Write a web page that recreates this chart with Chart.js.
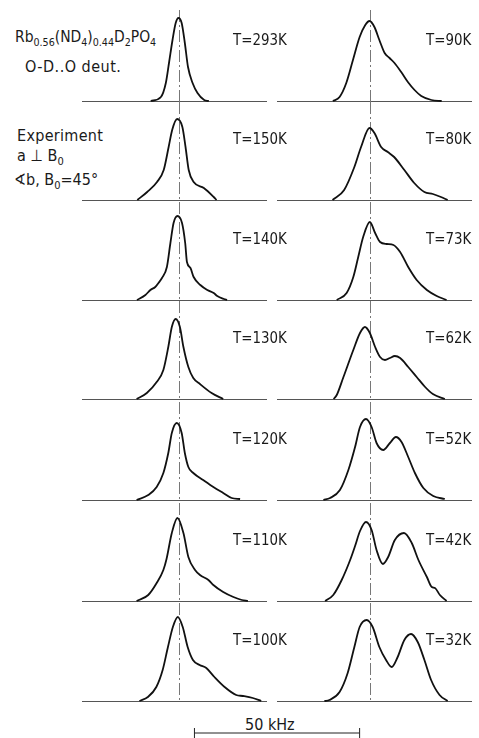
<!DOCTYPE html>
<html>
<head>
<meta charset="utf-8">
<script src="https://cdn.jsdelivr.net/npm/chart.js@4.4.1/dist/chart.umd.min.js"></script>
<style>
  body { margin: 0; background: #fff; }
  #page {
    position: relative; width: 479px; height: 738px; overflow: hidden;
    font-family: "DejaVu Sans Condensed", "Liberation Sans Narrow", sans-serif;
    color: #1a1a1a;
  }
  #page canvas { position: absolute; }
  .lbl { position: absolute; font-size: 16px; line-height: 16px; white-space: nowrap; transform-origin: left top; }
  .tl { transform: scaleX(0.93); }
  .hd { transform: scaleX(0.965); }
  .sb { font-size: 11px; vertical-align: -4px; }
</style>
</head>
<body>
<div id="page">
  <div class="lbl hd" style="left:15px;top:29px">Rb<span class="sb">0.56</span>(ND<span class="sb">4</span>)<span class="sb">0.44</span>D<span class="sb">2</span>PO<span class="sb">4</span></div>
  <div class="lbl" style="left:25px;top:59px;letter-spacing:0.5px">O-D..O deut.</div>
  <div class="lbl" style="left:17px;top:128px;letter-spacing:0.3px">Experiment</div>
  <div class="lbl" style="left:17px;top:148px">a ⊥ B<span class="sb">0</span></div>
  <div class="lbl" style="left:14px;top:172px">∢b, B<span class="sb">0</span>=45°</div>
  <div class="lbl" style="left:245px;top:717px">50 kHz</div>
</div>
<script>
// temperatures, left column top->bottom, right column top->bottom
const tempsLeft = [293, 150, 140, 130, 120, 110, 100];
const tempsRight = [90, 80, 73, 62, 52, 42, 32];

// spectra: [offset from centre in kHz, intensity (arb.)]
const s293 = [[-7.9,0],[-5.0,4],[-3.6,18],[-2.7,38],[-1.7,61],[-0.8,78],[0,83],[0.9,78],[1.8,58],[2.7,34],[4.0,18],[5.4,8],[7.3,1],[8.6,0]];
const s150 = [[-11.7,0],[-8.9,8],[-6.1,18],[-4.2,30],[-2.8,53],[-1.8,70],[-0.4,81],[1.1,73],[2.0,53],[2.9,30],[4.3,18],[7.2,12],[10.0,3],[10.8,0]];
const s140 = [[-11.8,0],[-9.4,5],[-8.0,10],[-6.6,13],[-5.7,17],[-4.7,22],[-3.3,33],[-2.3,57],[-1.4,77],[-0.3,84],[1.0,77],[1.9,57],[2.4,38],[3.4,32],[4.3,23],[6.2,15],[8.2,10],[10.0,7],[11.0,4],[12.9,1],[13.8,0]];
const s130 = [[-11.9,0],[-9.0,6],[-6.2,17],[-4.3,29],[-2.9,52],[-1.9,72],[-0.8,80],[0.4,72],[1.4,52],[2.8,32],[4.2,21],[6.1,15],[9.4,6],[12.7,0]];
const s120 = [[-11.9,0],[-8.6,5],[-6.2,13],[-4.3,27],[-2.9,47],[-1.9,67],[-0.5,77],[0.9,67],[1.8,47],[2.8,33],[4.2,27],[7.0,20],[9.9,13],[12.7,7],[15.1,2],[17.5,1]];
const s110 = [[-11.9,0],[-8.6,6],[-6.2,18],[-4.3,31],[-3.4,42],[-1.9,68],[-0.3,83],[1.4,68],[2.8,44],[4.7,31],[6.1,26],[8.5,21],[9.9,16],[12.7,9],[15.6,4],[18.0,1],[19.7,0]];
const s100 = [[-11.1,0],[-8.7,4],[-6.3,14],[-4.5,31],[-3.0,54],[-1.6,74],[-0.2,84],[1.2,74],[2.6,54],[4.1,41],[6.0,36],[7.9,33],[10.2,24],[13.1,14],[16.4,6],[18.3,5],[21.1,3],[23.5,0]];

const s90 = [[-10.4,0],[-8.5,4],[-6.6,18],[-4.7,41],[-2.8,64],[-1.2,76],[0,80],[1.4,74],[2.8,61],[4.3,48],[5.7,43],[7.1,38],[9.0,29],[10.9,19],[12.8,11],[14.7,5],[17.6,1],[20.5,0]];
const s80 = [[-10.5,0],[-7.2,10],[-4.3,33],[-2.4,53],[0,72],[1.4,67],[3.3,53],[5.2,48],[7.0,43],[9.9,30],[12.7,17],[15.6,8],[18.0,6],[20.3,3],[22.2,0]];
const s73 = [[-9.3,0],[-6.5,7],[-4.6,23],[-3.2,43],[-1.8,63],[0.1,78],[1.6,67],[3.0,58],[4.9,56],[6.8,55],[8.7,48],[11.0,33],[13.4,20],[16.3,10],[19.1,4],[21.9,0]];
const s62 = [[-10.2,0],[-9.3,4],[-7.4,22],[-4.6,49],[-2.7,66],[-1.3,72],[0.1,66],[1.6,52],[3.0,42],[4.4,39],[5.8,41],[7.2,43],[8.7,41],[11.0,32],[13.4,22],[15.8,12],[18.0,5],[21.4,0]];
const s52 = [[-13.1,0],[-11.2,2],[-8.4,10],[-6.0,30],[-4.1,53],[-2.7,73],[-1.0,81],[0.6,73],[2.0,57],[3.9,50],[5.8,57],[7.5,63],[9.1,58],[11.0,43],[12.9,27],[15.3,12],[18.1,4],[21.4,1]];
const s42 = [[-12.6,0],[-10.3,6],[-7.9,21],[-5.5,41],[-4.1,55],[-2.7,70],[-1.0,79],[0.6,71],[2.0,51],[3.8,37],[5.3,44],[7.2,61],[9.8,68],[12.0,58],[13.9,41],[16.3,24],[17.7,14],[18.6,13],[20.0,6],[21.9,0]];
const s32 = [[-12.8,0],[-11.4,1],[-8.5,9],[-6.2,28],[-4.3,54],[-2.8,74],[-0.8,81],[0.9,74],[2.8,54],[4.7,41],[6.3,34],[8.0,44],[9.9,61],[11.8,67],[13.7,59],[15.6,41],[17.5,21],[19.9,6],[22.2,0]];

const spectraLeft = [s293, s150, s140, s130, s120, s110, s100];
const spectraRight = [s90, s80, s73, s62, s52, s42, s32];

const scaleBarKHz = 50;

// layout
const PX_PER_KHZ = 3.52;
const ROW_BASE = [101, 200, 300, 399, 500, 601, 701];
const PANEL_H = 100;
const BASE_IN_PANEL = 98;
const COLS = [
  { left: 82, width: 185, center: 178.5, label: 233 },
  { left: 277, width: 195, center: 369.5, label: 426 }
];

const page = document.getElementById('page');

const panelLines = {
  id: 'panelLines',
  beforeDatasetsDraw(chart, args, opts) {
    const { ctx, chartArea, scales: { x, y } } = chart;
    const y0 = Math.round(y.getPixelForValue(0)) + 0.5;
    const x0 = Math.round(x.getPixelForValue(0)) + 0.5;
    ctx.save();
    ctx.lineWidth = 1;
    ctx.strokeStyle = '#555';
    ctx.beginPath();
    ctx.moveTo(chartArea.left, y0);
    ctx.lineTo(chartArea.right, y0);
    ctx.stroke();
    ctx.strokeStyle = '#777';
    ctx.setLineDash([12, 3, 2, 3]);
    ctx.beginPath();
    ctx.moveTo(x0, opts.top || 0);
    ctx.lineTo(x0, chart.height);
    ctx.stroke();
    ctx.restore();
  }
};

function makePanel(col, row, temp, spec) {
  const c = COLS[col];
  const base = ROW_BASE[row];
  const cv = document.createElement('canvas');
  cv.width = c.width;
  cv.height = PANEL_H;
  cv.style.left = c.left + 'px';
  cv.style.top = (base - BASE_IN_PANEL) + 'px';
  page.appendChild(cv);

  new Chart(cv, {
    type: 'line',
    data: {
      datasets: [{
        data: spec.map(p => ({ x: p[0], y: p[1] })),
        borderColor: '#111',
        borderWidth: 1.8,
        pointRadius: 0,
        cubicInterpolationMode: 'monotone',
        fill: false
      }]
    },
    options: {
      responsive: false,
      animation: false,
      events: [],
      layout: { padding: 0 },
      plugins: {
        legend: { display: false },
        tooltip: { enabled: false },
        panelLines: { top: row === 0 ? 7 : 0 }
      },
      scales: {
        x: { type: 'linear', display: false,
             min: (c.left - c.center) / PX_PER_KHZ,
             max: (c.left + c.width - c.center) / PX_PER_KHZ },
        y: { display: false, min: BASE_IN_PANEL - PANEL_H, max: BASE_IN_PANEL }
      }
    },
    plugins: [panelLines]
  });

  const lbl = document.createElement('div');
  lbl.className = 'lbl tl';
  lbl.textContent = `T=${temp}K`;
  lbl.style.left = c.label + 'px';
  lbl.style.top = (base - 69) + 'px';
  page.appendChild(lbl);
}

tempsLeft.forEach((t, i) => makePanel(0, i, t, spectraLeft[i]));
tempsRight.forEach((t, i) => makePanel(1, i, t, spectraRight[i]));

// 50 kHz scale bar
const sbCanvas = document.createElement('canvas');
sbCanvas.width = 195;
sbCanvas.height = 20;
sbCanvas.style.left = '180px';
sbCanvas.style.top = '723px';
page.appendChild(sbCanvas);
new Chart(sbCanvas, {
  type: 'line',
  data: {
    datasets: [{
      data: [{ x: 0, y: 0 }, { x: scaleBarKHz, y: 0 }],
      borderColor: '#222',
      borderWidth: 1,
      pointStyle: 'line',
      rotation: 90,
      pointRadius: 5,
      pointBorderWidth: 1,
      pointBorderColor: '#222',
      clip: false
    }]
  },
  options: {
    responsive: false,
    animation: false,
    events: [],
    layout: { padding: 0 },
    plugins: { legend: { display: false }, tooltip: { enabled: false } },
    scales: {
      x: { type: 'linear', display: false, min: (180 - 189) / PX_PER_KHZ, max: (375 - 189) / PX_PER_KHZ },
      y: { display: false, min: -1, max: 1 }
    }
  }
});
</script>
</body>
</html>
